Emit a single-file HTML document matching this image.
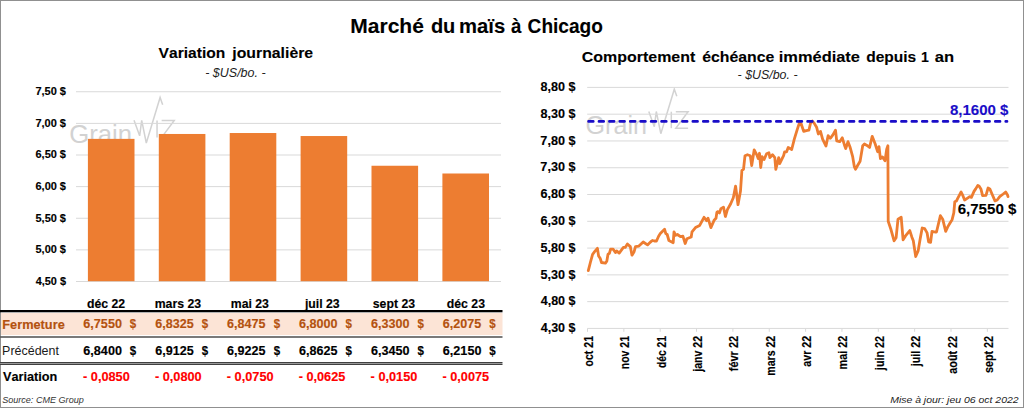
<!DOCTYPE html>
<html><head><meta charset="utf-8"><style>
html,body{margin:0;padding:0;background:#fff;width:1024px;height:408px;overflow:hidden}
svg{display:block;font-family:"Liberation Sans",sans-serif;font-kerning:none}
text{font-kerning:none}
</style></head><body>
<svg width="1024" height="408" viewBox="0 0 1024 408">
<rect x="0.5" y="0.5" width="1023" height="407" fill="#fff" stroke="#909090" stroke-width="1"/>
<text x="350.29" y="32.90" font-size="20.9" font-weight="bold" stroke="#000" stroke-width="0.1" fill="#000" textLength="73.63" lengthAdjust="spacingAndGlyphs">Marché</text>
<text x="430.88" y="32.90" font-size="20.9" font-weight="bold" stroke="#000" stroke-width="0.1" fill="#000" textLength="24.44" lengthAdjust="spacingAndGlyphs">du</text>
<text x="459.06" y="32.90" font-size="20.9" font-weight="bold" stroke="#000" stroke-width="0.1" fill="#000" textLength="46.17" lengthAdjust="spacingAndGlyphs">maïs</text>
<text x="510.92" y="32.90" font-size="20.9" font-weight="bold" stroke="#000" stroke-width="0.1" fill="#000" textLength="10.43" lengthAdjust="spacingAndGlyphs">à</text>
<text x="527.62" y="32.90" font-size="20.9" font-weight="bold" stroke="#000" stroke-width="0.1" fill="#000" textLength="75.33" lengthAdjust="spacingAndGlyphs">Chicago</text>
<text x="158.59" y="57.50" font-size="15.5" font-weight="bold" stroke="#000" stroke-width="0.1" fill="#000" textLength="66.67" lengthAdjust="spacingAndGlyphs">Variation</text>
<text x="232.25" y="57.50" font-size="15.5" font-weight="bold" stroke="#000" stroke-width="0.1" fill="#000" textLength="80.89" lengthAdjust="spacingAndGlyphs">journalière</text>
<text x="205.26" y="76.60" font-size="12.8" font-style="italic" fill="#222" textLength="60.32" lengthAdjust="spacingAndGlyphs">- $US/bo. -</text>
<text x="581.75" y="61.50" font-size="15.1" font-weight="bold" stroke="#000" stroke-width="0.1" fill="#000" textLength="113.55" lengthAdjust="spacingAndGlyphs">Comportement</text>
<text x="702.18" y="61.50" font-size="15.1" font-weight="bold" stroke="#000" stroke-width="0.1" fill="#000" textLength="72.26" lengthAdjust="spacingAndGlyphs">échéance</text>
<text x="778.75" y="61.50" font-size="15.1" font-weight="bold" stroke="#000" stroke-width="0.1" fill="#000" textLength="81.21" lengthAdjust="spacingAndGlyphs">immédiate</text>
<text x="866.16" y="61.50" font-size="15.1" font-weight="bold" stroke="#000" stroke-width="0.1" fill="#000" textLength="50.07" lengthAdjust="spacingAndGlyphs">depuis</text>
<text x="921.01" y="61.50" font-size="15.1" font-weight="bold" stroke="#000" stroke-width="0.1" fill="#000" textLength="7.89" lengthAdjust="spacingAndGlyphs">1</text>
<text x="934.71" y="61.50" font-size="15.1" font-weight="bold" stroke="#000" stroke-width="0.1" fill="#000" textLength="19.42" lengthAdjust="spacingAndGlyphs">an</text>
<text x="737.56" y="78.75" font-size="12.4" font-style="italic" fill="#222" textLength="60.02" lengthAdjust="spacingAndGlyphs">- $US/bo. -</text>
<g fill="none" stroke="#d2d2d2" stroke-width="1.5" stroke-linejoin="miter"><polyline points="134.03,120.29 139.65,135.84 141.70,120.29 146.30,143.00 160.11,97.48 162.67,104.64"/><polyline points="157.04,120.50 157.04,137.38"/><polyline points="161.65,120.50 174.23,120.50 161.65,137.38 174.23,137.38"/></g>
<text x="69.31" y="143.31" font-size="25.575" fill="#d2d2d2" textLength="62.81" lengthAdjust="spacingAndGlyphs">Grain</text>
<line x1="76" y1="91.75" x2="501" y2="91.75" stroke="#d9d9d9" stroke-width="1"/>
<line x1="76" y1="123.38" x2="501" y2="123.38" stroke="#d9d9d9" stroke-width="1"/>
<line x1="76" y1="155.00" x2="501" y2="155.00" stroke="#d9d9d9" stroke-width="1"/>
<line x1="76" y1="186.62" x2="501" y2="186.62" stroke="#d9d9d9" stroke-width="1"/>
<line x1="76" y1="218.25" x2="501" y2="218.25" stroke="#d9d9d9" stroke-width="1"/>
<line x1="76" y1="249.88" x2="501" y2="249.88" stroke="#d9d9d9" stroke-width="1"/>
<line x1="76" y1="281.50" x2="501" y2="281.50" stroke="#d9d9d9" stroke-width="1"/>
<rect x="87.90" y="138.87" width="46.6" height="142.33" fill="#ed7d31"/>
<rect x="158.80" y="133.97" width="46.6" height="147.23" fill="#ed7d31"/>
<rect x="229.70" y="133.02" width="46.6" height="148.18" fill="#ed7d31"/>
<rect x="300.60" y="136.03" width="46.6" height="145.17" fill="#ed7d31"/>
<rect x="371.50" y="165.75" width="46.6" height="115.45" fill="#ed7d31"/>
<rect x="442.40" y="173.50" width="46.6" height="107.70" fill="#ed7d31"/>
<text x="35.43" y="95.10" font-size="11" font-weight="bold" stroke="#000" stroke-width="0.15" fill="#000" textLength="30.53" lengthAdjust="spacingAndGlyphs">7,50 $</text>
<text x="35.43" y="126.72" font-size="11" font-weight="bold" stroke="#000" stroke-width="0.15" fill="#000" textLength="30.53" lengthAdjust="spacingAndGlyphs">7,00 $</text>
<text x="35.50" y="158.35" font-size="11" font-weight="bold" stroke="#000" stroke-width="0.15" fill="#000" textLength="30.46" lengthAdjust="spacingAndGlyphs">6,50 $</text>
<text x="35.50" y="189.97" font-size="11" font-weight="bold" stroke="#000" stroke-width="0.15" fill="#000" textLength="30.46" lengthAdjust="spacingAndGlyphs">6,00 $</text>
<text x="35.56" y="221.60" font-size="11" font-weight="bold" stroke="#000" stroke-width="0.15" fill="#000" textLength="30.39" lengthAdjust="spacingAndGlyphs">5,50 $</text>
<text x="35.56" y="253.22" font-size="11" font-weight="bold" stroke="#000" stroke-width="0.15" fill="#000" textLength="30.39" lengthAdjust="spacingAndGlyphs">5,00 $</text>
<text x="35.74" y="284.85" font-size="11" font-weight="bold" stroke="#000" stroke-width="0.15" fill="#000" textLength="30.22" lengthAdjust="spacingAndGlyphs">4,50 $</text>
<rect x="1" y="313" width="501.5" height="22" fill="#fce4d6"/>
<rect x="0" y="310" width="502.5" height="2.3" fill="#000"/>
<rect x="0" y="336.2" width="502.5" height="1.6" fill="#5a5a5a"/>
<rect x="0" y="362" width="502.5" height="1" fill="#404040"/>
<rect x="1" y="363" width="501.5" height="1" fill="#999"/>
<rect x="0" y="364" width="502.5" height="1" fill="#404040"/>
<text x="87.00" y="307.70" font-size="12.2" font-weight="bold" stroke="#000" stroke-width="0.15" fill="#000" textLength="38.19" lengthAdjust="spacingAndGlyphs">déc 22</text>
<text x="154.69" y="307.70" font-size="12.2" font-weight="bold" stroke="#000" stroke-width="0.15" fill="#000" textLength="46.38" lengthAdjust="spacingAndGlyphs">mars 23</text>
<text x="230.74" y="307.70" font-size="12.2" font-weight="bold" stroke="#000" stroke-width="0.15" fill="#000" textLength="38.19" lengthAdjust="spacingAndGlyphs">mai 23</text>
<text x="304.91" y="307.70" font-size="12.2" font-weight="bold" stroke="#000" stroke-width="0.15" fill="#000" textLength="34.77" lengthAdjust="spacingAndGlyphs">juil 23</text>
<text x="372.81" y="307.70" font-size="12.2" font-weight="bold" stroke="#000" stroke-width="0.15" fill="#000" textLength="42.28" lengthAdjust="spacingAndGlyphs">sept 23</text>
<text x="446.77" y="307.70" font-size="12.2" font-weight="bold" stroke="#000" stroke-width="0.15" fill="#000" textLength="38.19" lengthAdjust="spacingAndGlyphs">déc 23</text>
<text x="2.25" y="328.70" font-size="12.5" font-weight="bold" stroke="#b4520f" stroke-width="0.15" fill="#b4520f" textLength="62.49" lengthAdjust="spacingAndGlyphs">Fermeture</text>
<text x="2.08" y="354.70" font-size="12.5" fill="#1a1a1a" textLength="56.81" lengthAdjust="spacingAndGlyphs">Précédent</text>
<text x="3.01" y="380.80" font-size="12.5" font-weight="bold" stroke="#000" stroke-width="0.15" fill="#000" textLength="54.17" lengthAdjust="spacingAndGlyphs">Variation</text>
<text x="83.34" y="328.00" font-size="12.5" font-weight="bold" stroke="#b4520f" stroke-width="0.15" fill="#b4520f" textLength="38.58" lengthAdjust="spacingAndGlyphs">6,7550</text>
<text x="129.85" y="328.00" font-size="12.5" font-weight="bold" stroke="#b4520f" stroke-width="0.15" fill="#b4520f" textLength="6.42" lengthAdjust="spacingAndGlyphs">$</text>
<text x="83.34" y="354.70" font-size="12.5" font-weight="bold" stroke="#000" stroke-width="0.15" fill="#000" textLength="38.58" lengthAdjust="spacingAndGlyphs">6,8400</text>
<text x="129.85" y="354.70" font-size="12.5" font-weight="bold" stroke="#000" stroke-width="0.15" fill="#000" textLength="6.42" lengthAdjust="spacingAndGlyphs">$</text>
<text x="83.00" y="380.90" font-size="12.5" font-weight="bold" stroke="#ff0000" stroke-width="0.15" fill="#ff0000" textLength="46.82" lengthAdjust="spacingAndGlyphs">- 0,0850</text>
<text x="155.24" y="328.00" font-size="12.5" font-weight="bold" stroke="#b4520f" stroke-width="0.15" fill="#b4520f" textLength="38.41" lengthAdjust="spacingAndGlyphs">6,8325</text>
<text x="201.75" y="328.00" font-size="12.5" font-weight="bold" stroke="#b4520f" stroke-width="0.15" fill="#b4520f" textLength="6.42" lengthAdjust="spacingAndGlyphs">$</text>
<text x="155.24" y="354.70" font-size="12.5" font-weight="bold" stroke="#000" stroke-width="0.15" fill="#000" textLength="38.41" lengthAdjust="spacingAndGlyphs">6,9125</text>
<text x="201.75" y="354.70" font-size="12.5" font-weight="bold" stroke="#000" stroke-width="0.15" fill="#000" textLength="6.42" lengthAdjust="spacingAndGlyphs">$</text>
<text x="154.90" y="380.90" font-size="12.5" font-weight="bold" stroke="#ff0000" stroke-width="0.15" fill="#ff0000" textLength="46.82" lengthAdjust="spacingAndGlyphs">- 0,0800</text>
<text x="227.14" y="328.00" font-size="12.5" font-weight="bold" stroke="#b4520f" stroke-width="0.15" fill="#b4520f" textLength="38.41" lengthAdjust="spacingAndGlyphs">6,8475</text>
<text x="273.65" y="328.00" font-size="12.5" font-weight="bold" stroke="#b4520f" stroke-width="0.15" fill="#b4520f" textLength="6.42" lengthAdjust="spacingAndGlyphs">$</text>
<text x="227.14" y="354.70" font-size="12.5" font-weight="bold" stroke="#000" stroke-width="0.15" fill="#000" textLength="38.41" lengthAdjust="spacingAndGlyphs">6,9225</text>
<text x="273.65" y="354.70" font-size="12.5" font-weight="bold" stroke="#000" stroke-width="0.15" fill="#000" textLength="6.42" lengthAdjust="spacingAndGlyphs">$</text>
<text x="226.80" y="380.90" font-size="12.5" font-weight="bold" stroke="#ff0000" stroke-width="0.15" fill="#ff0000" textLength="46.82" lengthAdjust="spacingAndGlyphs">- 0,0750</text>
<text x="299.04" y="328.00" font-size="12.5" font-weight="bold" stroke="#b4520f" stroke-width="0.15" fill="#b4520f" textLength="38.58" lengthAdjust="spacingAndGlyphs">6,8000</text>
<text x="345.55" y="328.00" font-size="12.5" font-weight="bold" stroke="#b4520f" stroke-width="0.15" fill="#b4520f" textLength="6.42" lengthAdjust="spacingAndGlyphs">$</text>
<text x="299.04" y="354.70" font-size="12.5" font-weight="bold" stroke="#000" stroke-width="0.15" fill="#000" textLength="38.41" lengthAdjust="spacingAndGlyphs">6,8625</text>
<text x="345.55" y="354.70" font-size="12.5" font-weight="bold" stroke="#000" stroke-width="0.15" fill="#000" textLength="6.42" lengthAdjust="spacingAndGlyphs">$</text>
<text x="298.70" y="380.90" font-size="12.5" font-weight="bold" stroke="#ff0000" stroke-width="0.15" fill="#ff0000" textLength="46.65" lengthAdjust="spacingAndGlyphs">- 0,0625</text>
<text x="370.94" y="328.00" font-size="12.5" font-weight="bold" stroke="#b4520f" stroke-width="0.15" fill="#b4520f" textLength="38.58" lengthAdjust="spacingAndGlyphs">6,3300</text>
<text x="417.45" y="328.00" font-size="12.5" font-weight="bold" stroke="#b4520f" stroke-width="0.15" fill="#b4520f" textLength="6.42" lengthAdjust="spacingAndGlyphs">$</text>
<text x="370.94" y="354.70" font-size="12.5" font-weight="bold" stroke="#000" stroke-width="0.15" fill="#000" textLength="38.58" lengthAdjust="spacingAndGlyphs">6,3450</text>
<text x="417.45" y="354.70" font-size="12.5" font-weight="bold" stroke="#000" stroke-width="0.15" fill="#000" textLength="6.42" lengthAdjust="spacingAndGlyphs">$</text>
<text x="370.60" y="380.90" font-size="12.5" font-weight="bold" stroke="#ff0000" stroke-width="0.15" fill="#ff0000" textLength="46.82" lengthAdjust="spacingAndGlyphs">- 0,0150</text>
<text x="442.84" y="328.00" font-size="12.5" font-weight="bold" stroke="#b4520f" stroke-width="0.15" fill="#b4520f" textLength="38.41" lengthAdjust="spacingAndGlyphs">6,2075</text>
<text x="489.35" y="328.00" font-size="12.5" font-weight="bold" stroke="#b4520f" stroke-width="0.15" fill="#b4520f" textLength="6.42" lengthAdjust="spacingAndGlyphs">$</text>
<text x="442.84" y="354.70" font-size="12.5" font-weight="bold" stroke="#000" stroke-width="0.15" fill="#000" textLength="38.58" lengthAdjust="spacingAndGlyphs">6,2150</text>
<text x="489.35" y="354.70" font-size="12.5" font-weight="bold" stroke="#000" stroke-width="0.15" fill="#000" textLength="6.42" lengthAdjust="spacingAndGlyphs">$</text>
<text x="442.50" y="380.90" font-size="12.5" font-weight="bold" stroke="#ff0000" stroke-width="0.15" fill="#ff0000" textLength="46.65" lengthAdjust="spacingAndGlyphs">- 0,0075</text>
<text x="2.14" y="402.60" font-size="9.6" font-style="italic" fill="#333" textLength="81.65" lengthAdjust="spacingAndGlyphs">Source: CME Group</text>
<g fill="none" stroke="#d2d2d2" stroke-width="1.5" stroke-linejoin="miter"><polyline points="648.80,111.50 654.30,126.70 656.30,111.50 660.80,133.70 674.30,89.20 676.80,96.20"/><polyline points="671.30,111.70 671.30,128.20"/><polyline points="675.80,111.70 688.10,111.70 675.80,128.20 688.10,128.20"/></g>
<text x="585.54" y="134.00" font-size="25.0" fill="#d2d2d2" textLength="61.39" lengthAdjust="spacingAndGlyphs">Grain</text>
<line x1="587.2" y1="87.40" x2="1008.5" y2="87.40" stroke="#d9d9d9" stroke-width="1"/>
<line x1="587.2" y1="114.18" x2="1008.5" y2="114.18" stroke="#d9d9d9" stroke-width="1"/>
<line x1="587.2" y1="140.96" x2="1008.5" y2="140.96" stroke="#d9d9d9" stroke-width="1"/>
<line x1="587.2" y1="167.74" x2="1008.5" y2="167.74" stroke="#d9d9d9" stroke-width="1"/>
<line x1="587.2" y1="194.52" x2="1008.5" y2="194.52" stroke="#d9d9d9" stroke-width="1"/>
<line x1="587.2" y1="221.30" x2="1008.5" y2="221.30" stroke="#d9d9d9" stroke-width="1"/>
<line x1="587.2" y1="248.08" x2="1008.5" y2="248.08" stroke="#d9d9d9" stroke-width="1"/>
<line x1="587.2" y1="274.86" x2="1008.5" y2="274.86" stroke="#d9d9d9" stroke-width="1"/>
<line x1="587.2" y1="301.64" x2="1008.5" y2="301.64" stroke="#d9d9d9" stroke-width="1"/>
<line x1="587.2" y1="328.42" x2="1008.5" y2="328.42" stroke="#d9d9d9" stroke-width="1"/>
<line x1="587.50" y1="328.6" x2="587.50" y2="331.8" stroke="#d9d9d9" stroke-width="1"/>
<line x1="623.85" y1="328.6" x2="623.85" y2="331.8" stroke="#d9d9d9" stroke-width="1"/>
<line x1="660.20" y1="328.6" x2="660.20" y2="331.8" stroke="#d9d9d9" stroke-width="1"/>
<line x1="696.55" y1="328.6" x2="696.55" y2="331.8" stroke="#d9d9d9" stroke-width="1"/>
<line x1="732.90" y1="328.6" x2="732.90" y2="331.8" stroke="#d9d9d9" stroke-width="1"/>
<line x1="769.25" y1="328.6" x2="769.25" y2="331.8" stroke="#d9d9d9" stroke-width="1"/>
<line x1="805.60" y1="328.6" x2="805.60" y2="331.8" stroke="#d9d9d9" stroke-width="1"/>
<line x1="841.95" y1="328.6" x2="841.95" y2="331.8" stroke="#d9d9d9" stroke-width="1"/>
<line x1="878.30" y1="328.6" x2="878.30" y2="331.8" stroke="#d9d9d9" stroke-width="1"/>
<line x1="914.65" y1="328.6" x2="914.65" y2="331.8" stroke="#d9d9d9" stroke-width="1"/>
<line x1="951.00" y1="328.6" x2="951.00" y2="331.8" stroke="#d9d9d9" stroke-width="1"/>
<line x1="987.35" y1="328.6" x2="987.35" y2="331.8" stroke="#d9d9d9" stroke-width="1"/>
<text x="540.50" y="91.00" font-size="12.5" font-weight="bold" stroke="#000" stroke-width="0.15" fill="#000" textLength="34.98" lengthAdjust="spacingAndGlyphs">8,80 $</text>
<text x="540.50" y="117.79" font-size="12.5" font-weight="bold" stroke="#000" stroke-width="0.15" fill="#000" textLength="34.98" lengthAdjust="spacingAndGlyphs">8,30 $</text>
<text x="540.36" y="144.58" font-size="12.5" font-weight="bold" stroke="#000" stroke-width="0.15" fill="#000" textLength="35.12" lengthAdjust="spacingAndGlyphs">7,80 $</text>
<text x="540.36" y="171.37" font-size="12.5" font-weight="bold" stroke="#000" stroke-width="0.15" fill="#000" textLength="35.12" lengthAdjust="spacingAndGlyphs">7,30 $</text>
<text x="540.44" y="198.16" font-size="12.5" font-weight="bold" stroke="#000" stroke-width="0.15" fill="#000" textLength="35.04" lengthAdjust="spacingAndGlyphs">6,80 $</text>
<text x="540.44" y="224.95" font-size="12.5" font-weight="bold" stroke="#000" stroke-width="0.15" fill="#000" textLength="35.04" lengthAdjust="spacingAndGlyphs">6,30 $</text>
<text x="540.51" y="251.74" font-size="12.5" font-weight="bold" stroke="#000" stroke-width="0.15" fill="#000" textLength="34.96" lengthAdjust="spacingAndGlyphs">5,80 $</text>
<text x="540.51" y="278.53" font-size="12.5" font-weight="bold" stroke="#000" stroke-width="0.15" fill="#000" textLength="34.96" lengthAdjust="spacingAndGlyphs">5,30 $</text>
<text x="540.71" y="305.32" font-size="12.5" font-weight="bold" stroke="#000" stroke-width="0.15" fill="#000" textLength="34.77" lengthAdjust="spacingAndGlyphs">4,80 $</text>
<text x="540.71" y="332.11" font-size="12.5" font-weight="bold" stroke="#000" stroke-width="0.15" fill="#000" textLength="34.77" lengthAdjust="spacingAndGlyphs">4,30 $</text>
<polyline points="588.3,270.6 590.5,262.0 592.6,254.3 594.6,251.7 597.4,248.3 598.6,256.0 600.3,258.6 601.5,262.5 605.4,263.2 606.8,261.2 608.0,254.3 609.4,253.4 610.6,249.2 613.2,249.2 615.4,252.6 616.6,250.9 619.2,253.1 623.4,247.4 625.2,247.4 627.4,244.0 630.3,246.6 632.0,255.2 634.1,251.7 635.5,246.6 638.9,246.1 643.2,242.0 647.5,244.9 649.2,243.2 651.2,241.4 652.6,240.5 654.3,241.0 656.5,241.0 658.6,236.2 660.3,233.6 664.6,229.3 665.8,233.6 667.2,234.5 668.9,240.5 673.2,242.7 674.0,231.9 675.7,235.3 677.4,234.5 680.5,236.7 682.9,236.2 685.2,243.5 686.9,238.7 691.2,237.0 692.0,231.9 695.5,227.6 699.7,225.4 704.0,217.3 706.6,220.7 708.0,218.2 710.9,227.6 714.3,219.9 716.0,218.2 716.9,212.2 718.0,211.6 719.5,212.9 720.9,208.6 723.5,207.1 725.4,216.5 727.4,209.6 730.7,203.7 733.3,197.8 735.6,186.1 738.0,204.7 740.5,191.0 741.9,170.4 743.5,169.4 745.0,155.7 747.4,154.7 750.3,155.7 751.7,165.5 754.2,149.8 757.2,155.7 758.2,158.6 759.5,153.3 760.7,167.5 762.1,156.7 764.0,159.6 766.6,153.7 768.9,152.7 769.9,157.6 772.5,154.7 774.8,157.6 775.8,169.4 778.7,157.6 779.7,163.5 783.6,155.7 784.6,151.8 786.6,151.8 788.2,147.5 790.5,148.8 791.7,149.5 794.3,139.2 796.9,130.6 799.4,122.9 801.1,123.7 802.3,127.2 803.7,131.4 806.3,130.6 808.9,130.2 810.6,122.9 812.3,121.1 814.0,122.9 816.6,127.2 818.3,134.0 820.5,131.4 822.6,139.2 826.0,146.0 828.1,135.7 830.3,138.3 832.9,134.9 835.5,130.2 836.7,140.9 839.7,141.7 842.3,137.8 844.5,145.2 845.7,148.6 848.0,141.7 850.0,146.9 852.6,156.3 854.3,166.6 855.5,169.2 857.6,165.5 860.1,161.2 862.7,145.7 864.4,144.0 867.0,145.4 869.6,147.4 872.2,136.3 875.2,144.0 877.6,151.7 879.0,146.6 880.4,158.6 882.4,156.9 885.0,160.8 886.7,149.2 887.9,145.7 888.2,221.2 890.8,229.0 894.1,240.8 896.1,237.8 898.0,219.2 901.2,217.3 903.1,239.8 905.5,235.9 909.8,230.6 911.8,236.9 913.3,240.8 915.7,256.5 918.2,250.6 920.2,238.8 922.2,228.0 924.7,228.6 927.1,232.9 928.6,241.8 930.6,242.4 932.0,231.4 934.9,232.0 936.5,232.0 940.4,215.7 942.7,219.2 945.7,231.4 947.6,227.1 950.2,222.7 952.1,219.7 953.8,212.9 954.8,201.7 956.5,200.9 957.7,198.3 961.1,192.0 962.9,195.7 964.6,200.0 967.2,198.3 969.7,196.6 971.4,197.4 974.0,191.4 975.7,188.9 977.8,185.4 979.2,186.3 980.9,188.9 982.6,195.7 986.0,195.4 988.1,188.0 989.8,188.9 992.0,194.0 995.0,200.9 997.2,200.0 999.7,196.6 1003.2,194.0 1005.7,192.0 1007.5,194.9 1008.0,196.6" fill="none" stroke="#ed7d31" stroke-width="2.8" stroke-linejoin="round" stroke-linecap="round"/>
<line x1="588.55" y1="121.4" x2="1007" y2="121.4" stroke="#1a0dc8" stroke-width="2.7" stroke-linecap="round" stroke-dasharray="4.7 5.73"/>
<text x="949.92" y="114.70" font-size="15.5" font-weight="bold" stroke="#1a0dc8" stroke-width="0.1" fill="#1a0dc8" textLength="58.49" lengthAdjust="spacingAndGlyphs">8,1600 $</text>
<text x="957.65" y="213.50" font-size="14.8" font-weight="bold" stroke="#000" stroke-width="0.1" fill="#000" textLength="58.77" lengthAdjust="spacingAndGlyphs">6,7550 $</text>
<text transform="translate(593.00,0) rotate(-90)" x="-366.41" y="0" font-size="12" font-weight="bold" stroke="#000" stroke-width="0.15" textLength="30.40" lengthAdjust="spacingAndGlyphs">oct 21</text>
<text transform="translate(629.35,0) rotate(-90)" x="-369.19" y="0" font-size="12" font-weight="bold" stroke="#000" stroke-width="0.15" textLength="33.18" lengthAdjust="spacingAndGlyphs">nov 21</text>
<text transform="translate(665.70,0) rotate(-90)" x="-367.92" y="0" font-size="12" font-weight="bold" stroke="#000" stroke-width="0.15" textLength="31.91" lengthAdjust="spacingAndGlyphs">déc 21</text>
<text transform="translate(702.05,0) rotate(-90)" x="-371.73" y="0" font-size="12" font-weight="bold" stroke="#000" stroke-width="0.15" textLength="35.86" lengthAdjust="spacingAndGlyphs">janv 22</text>
<text transform="translate(738.40,0) rotate(-90)" x="-371.29" y="0" font-size="12" font-weight="bold" stroke="#000" stroke-width="0.15" textLength="35.43" lengthAdjust="spacingAndGlyphs">févr 22</text>
<text transform="translate(774.75,0) rotate(-90)" x="-375.69" y="0" font-size="12" font-weight="bold" stroke="#000" stroke-width="0.15" textLength="39.82" lengthAdjust="spacingAndGlyphs">mars 22</text>
<text transform="translate(811.10,0) rotate(-90)" x="-366.71" y="0" font-size="12" font-weight="bold" stroke="#000" stroke-width="0.15" textLength="30.84" lengthAdjust="spacingAndGlyphs">avr 22</text>
<text transform="translate(847.45,0) rotate(-90)" x="-369.46" y="0" font-size="12" font-weight="bold" stroke="#000" stroke-width="0.15" textLength="33.59" lengthAdjust="spacingAndGlyphs">mai 22</text>
<text transform="translate(883.80,0) rotate(-90)" x="-370.13" y="0" font-size="12" font-weight="bold" stroke="#000" stroke-width="0.15" textLength="34.26" lengthAdjust="spacingAndGlyphs">juin 22</text>
<text transform="translate(920.15,0) rotate(-90)" x="-366.23" y="0" font-size="12" font-weight="bold" stroke="#000" stroke-width="0.15" textLength="30.36" lengthAdjust="spacingAndGlyphs">juil 22</text>
<text transform="translate(956.50,0) rotate(-90)" x="-373.72" y="0" font-size="12" font-weight="bold" stroke="#000" stroke-width="0.15" textLength="37.85" lengthAdjust="spacingAndGlyphs">août 22</text>
<text transform="translate(992.85,0) rotate(-90)" x="-373.08" y="0" font-size="12" font-weight="bold" stroke="#000" stroke-width="0.15" textLength="37.21" lengthAdjust="spacingAndGlyphs">sept 22</text>
<text x="890.18" y="402.60" font-size="9.6" font-style="italic" fill="#222" textLength="128.47" lengthAdjust="spacingAndGlyphs">Mise à jour: jeu 06 oct 2022</text>
</svg>
</body></html>
